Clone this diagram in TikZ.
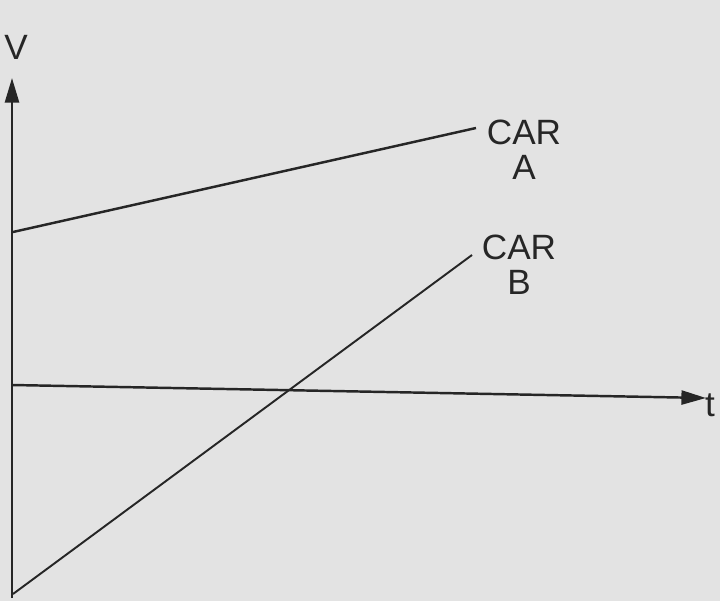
\documentclass[tikz,border=0pt]{standalone}
\usepackage{fontspec}
\setmainfont{Liberation Sans}
\usetikzlibrary{arrows.meta}
\begin{document}
\begin{tikzpicture}[x=0.02cm,y=-0.02cm,
  lbl/.style={font=\fontsize{20}{22}\selectfont, text=black!85},
  ln/.style={line width=1.4pt, black!85}]
\fill[black!11] (0,0) rectangle (720,601);
\useasboundingbox (0,0) rectangle (720,601);
\coordinate (o) at (12,598);
\coordinate (vt) at (12,78);
\coordinate (h0) at (12,385);
\coordinate (h1) at (706,398);
\draw[ln, -{Triangle[length=14pt,width=8pt]}] (o) -- (vt);
\draw[ln, -{Triangle[length=14pt,width=8pt]}] (h0) -- (h1);
\node[lbl] (v) at (16,47) {V};
\node[lbl] (t) at (710,405) {t};
\coordinate (a0) at (13,232);
\coordinate (a1) at (476,128);
\coordinate (b0) at (13,594);
\coordinate (b1) at (472,255);
\draw[ln] (a0) -- (a1);
\draw[ln, line width=1.1pt] (b0) -- (b1);
\node[lbl, align=center] (ca) at (524,150) {CAR\\[-2pt]A};
\node[lbl, align=center] (cb) at (519,265) {CAR\\[-2pt]B};
\end{tikzpicture}
\end{document}
